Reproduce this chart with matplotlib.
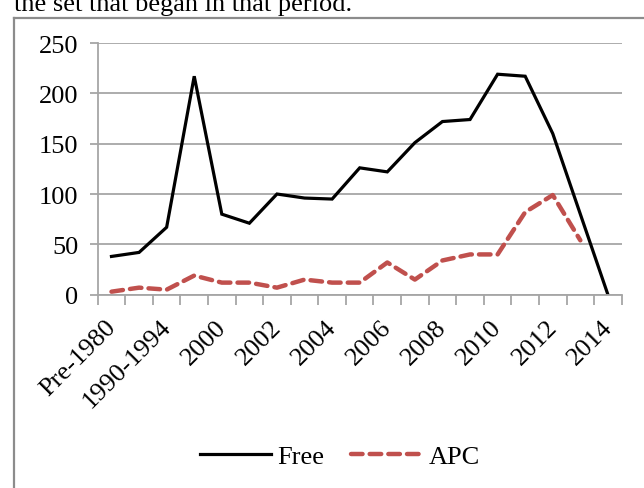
import matplotlib.pyplot as plt
import matplotlib.transforms as mtransforms
from matplotlib.lines import Line2D
import numpy as np

# Categories (publication start period)
categories = ['Pre-1980', '1980-1989', '1990-1994', '1995-1999', '2000', '2001',
              '2002', '2003', '2004', '2005', '2006', '2007', '2008', '2009',
              '2010', '2011', '2012', '2013', '2014']
free = [38, 42, 67, 217, 80, 71, 100, 96, 95, 126, 122, 151, 172, 174,
        219, 217, 160, 80, 0]
apc = [3, 7, 5, 19, 12, 12, 7, 15, 12, 12, 32, 15, 34, 40,
       40, 82, 99, 54, np.nan]
y_ticks = [0, 50, 100, 150, 200, 250]

font = 'Liberation Serif'
fs = 19
grey = '#a6a6a6'

fig = plt.figure(figsize=(6.44, 4.89), dpi=100)
ax = fig.add_axes([0.1517, 0.3953, 0.8137, 0.5147])

x = np.arange(len(categories))
ax.plot(x, free, color='black', lw=2.3, label='Free', solid_joinstyle='miter')
ax.plot(x, apc, color='#c0504d', lw=3.2, dashes=(2.6, 1.6),
        dash_capstyle='round', label='APC')

ax.set_xlim(-0.5, len(categories) - 0.5)
ax.set_ylim(0, 250)
ax.set_yticks(y_ticks)
ax.set_yticklabels([str(v) for v in y_ticks], fontsize=fs, family=font)
ax.grid(axis='y', color=grey, lw=1.3)
ax.set_axisbelow(True)

# labels on every other category, tick marks between categories
ax.set_xticks(x[::2])
ax.set_xticklabels(categories[::2], fontsize=fs, family=font, rotation=45,
                   ha='right', va='top', rotation_mode='anchor')
ax.set_xticks(np.arange(-0.5, len(categories)), minor=True)
ax.tick_params(axis='x', which='major', length=0, pad=12)
ax.tick_params(axis='x', which='minor', length=7, color=grey, width=1.3)
ax.tick_params(axis='y', length=6, color=grey, width=1.3, pad=8)

shift = mtransforms.ScaledTranslation(-7 / 100, -4 / 100, fig.dpi_scale_trans)
for lab in ax.get_xticklabels():
    lab.set_transform(lab.get_transform() + shift)

for s in ['top', 'right']:
    ax.spines[s].set_visible(False)
for s in ['left', 'bottom']:
    ax.spines[s].set_color(grey)
    ax.spines[s].set_linewidth(1.3)

fig.legend(loc='center', bbox_to_anchor=(0.528, 0.0654), ncol=2, frameon=False,
           prop={'family': font, 'size': fs}, handlelength=2.7,
           handletextpad=0.25, columnspacing=1.0)

# outer frame, partly cut off
fw = 489.0
fwidth = 644.0
fig.add_artist(Line2D([14 / fwidth, 14 / fwidth], [0, 1 - 18.5 / fw],
                      transform=fig.transFigure, color='#8c8c8c', lw=1.6))
fig.add_artist(Line2D([14 / fwidth, 1], [1 - 18.5 / fw, 1 - 18.5 / fw],
                      transform=fig.transFigure, color='#8c8c8c', lw=1.6))

# caption text cut off at the top, as in the source
fig.text(14 / fwidth, 1 - 11.5 / fw, 'the set that began in that period.',
         fontsize=fs, family=font, va='baseline', ha='left')

fig.savefig('out.png', dpi=100, facecolor='white')
